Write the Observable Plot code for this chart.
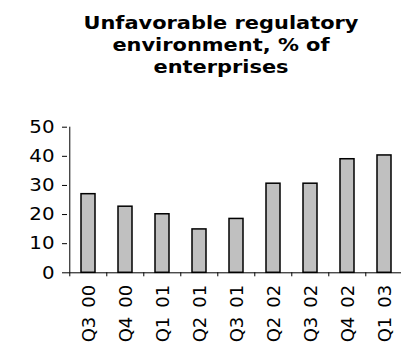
<!DOCTYPE html>
<html>
<head>
<meta charset="utf-8">
<script src="https://cdn.jsdelivr.net/npm/d3@7"></script>
<script src="https://cdn.jsdelivr.net/npm/@observablehq/plot@0.6"></script>
<style>
  html, body { margin: 0; padding: 0; background: #fff; overflow: hidden; width: 401px; height: 342px; }
  #title {
    position: absolute; left: 0; top: 0; width: 401px; box-sizing: border-box;
    padding-left: 41px; padding-top: 12px;
    font-family: "DejaVu Sans", sans-serif; font-weight: bold; font-size: 18.5px; line-height: 22px;
    text-align: center; color: #000; transform: scaleX(1.13); transform-origin: 221px 0;
  }
  #chart { position: absolute; left: 0; top: 0; }
</style>
</head>
<body>
<div id="title">Unfavorable regulatory<br>environment, % of<br>enterprises</div>
<div id="chart"></div>
<script>
const categories = ["Q3 00", "Q4 00", "Q1 01", "Q2 01", "Q3 01", "Q2 02", "Q3 02", "Q4 02", "Q1 03"];
const values = [27.0, 22.7, 20.1, 14.9, 18.5, 30.6, 30.6, 39.0, 40.3];
const yTicks = [0, 10, 20, 30, 40, 50];

const data = categories.map((c, i) => ({category: c, value: values[i]}));

const W = 401, H = 342, ML = 67, MR = -2.7;
const step = (W - ML - MR) / categories.length;

const chart = Plot.plot({
  width: W,
  height: H,
  marginLeft: ML,
  marginRight: MR,
  marginTop: 126.7,
  marginBottom: 69.7,
  style: {fontFamily: "DejaVu Sans, sans-serif", fontSize: "18px", color: "#000", background: "transparent", overflow: "visible"},
  x: {type: "band", domain: categories, paddingInner: 0.63, paddingOuter: 0.315, axis: null, label: null},
  y: {domain: [0, 50], axis: null, label: null},
  marks: [
    Plot.barY(data, {x: "category", y: "value", fill: "#c0c0c0", stroke: "#000", strokeWidth: 1.5}),
    Plot.ruleY([0], {stroke: "#000", strokeWidth: 1}),
    Plot.ruleX([categories[0]], {x: d => d, dx: -step / 2, y1: 0, y2: 50, stroke: "#000", strokeWidth: 1}),
    Plot.axisY({ticks: yTicks, label: null, tickSize: 5, tickPadding: 8, fontSize: 18, stroke: "#000", strokeOpacity: 1, fill: "#000"}),
    Plot.axisX({label: null, tickSize: 4, dx: -step / 2, tickFormat: () => "", stroke: "#000", strokeOpacity: 1}),
    Plot.axisX({label: null, tickSize: 0, tickPadding: 12, tickRotate: -90, dx: 1, fontSize: 18, fill: "#000",
      tickFormat: d => d.replace(" ", "\u2002")})
  ]
});
document.getElementById("chart").appendChild(chart);

// widen y tick label glyphs slightly to match the reference's proportions
d3.select(chart).selectAll('g[aria-label="y-axis tick label"] text').each(function() {
  const t = this.getAttribute("transform") || "";
  this.setAttribute("transform", t + " scale(1.1,1)");
});
</script>
</body>
</html>
